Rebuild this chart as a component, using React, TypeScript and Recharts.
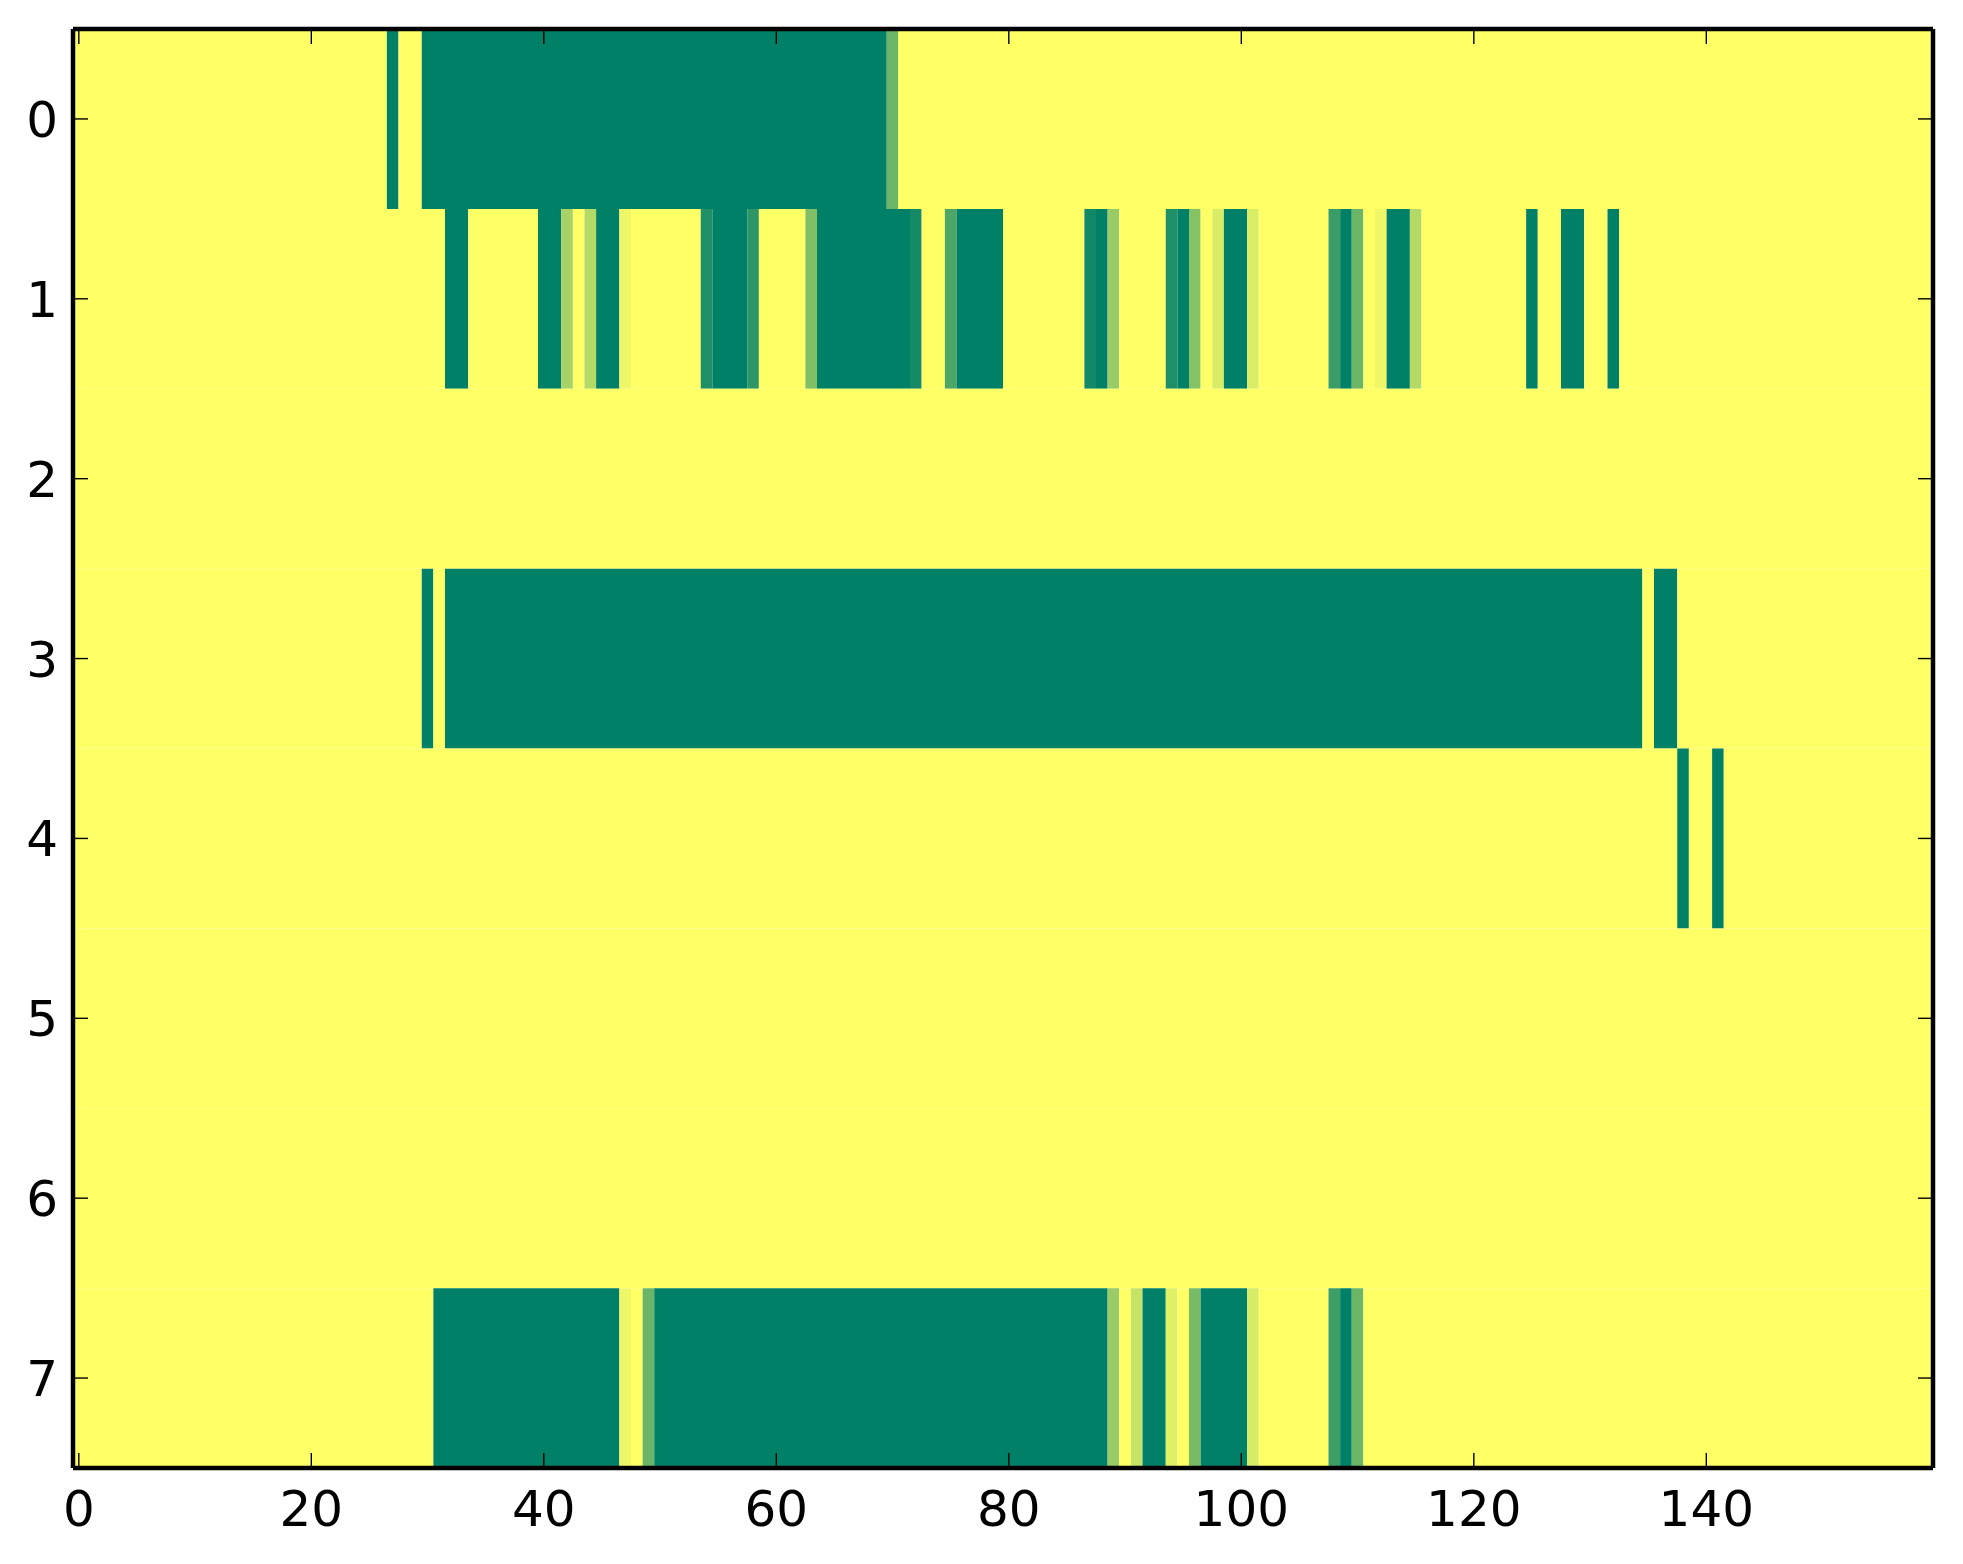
import React from "react";
import {
  ScatterChart,
  XAxis,
  YAxis,
  ReferenceArea,
} from "recharts";

// image is 8 rows x 160 columns; cells not listed are at the top of the scale (1)
const nCols = 160;
const rowLabels = [0, 1, 2, 3, 4, 5, 6, 7];
const xTicks = [0, 20, 40, 60, 80, 100, 120, 140];

// [firstCol, lastCol, value]
const row0: [number, number, number][] = [
  [27, 27, 0],
  [30, 69, 0],
  [70, 70, 0.42],
];
const row1: [number, number, number][] = [
  [32, 33, 0],
  [40, 41, 0],
  [42, 42, 0.65],
  [44, 44, 0.7],
  [45, 46, 0],
  [47, 47, 0.94],
  [54, 54, 0.12],
  [55, 57, 0],
  [58, 58, 0.18],
  [63, 63, 0.5],
  [64, 71, 0],
  [72, 72, 0.08],
  [75, 75, 0.3],
  [76, 79, 0],
  [87, 87, 0.07],
  [88, 88, 0],
  [89, 89, 0.6],
  [94, 94, 0.12],
  [95, 95, 0],
  [96, 96, 0.52],
  [98, 98, 0.85],
  [99, 100, 0],
  [101, 101, 0.85],
  [108, 108, 0.23],
  [109, 109, 0],
  [110, 110, 0.42],
  [112, 112, 0.94],
  [113, 114, 0],
  [115, 115, 0.7],
  [125, 125, 0],
  [128, 129, 0],
  [132, 132, 0],
];
const row2: [number, number, number][] = [];
const row3: [number, number, number][] = [
  [30, 30, 0],
  [32, 134, 0],
  [136, 137, 0],
];
const row4: [number, number, number][] = [
  [138, 138, 0],
  [141, 141, 0],
];
const row5: [number, number, number][] = [];
const row6: [number, number, number][] = [];
const row7: [number, number, number][] = [
  [31, 46, 0],
  [47, 47, 0.94],
  [49, 49, 0.42],
  [50, 88, 0],
  [89, 89, 0.6],
  [91, 91, 0.78],
  [92, 93, 0],
  [94, 94, 0.88],
  [96, 96, 0.47],
  [97, 100, 0],
  [101, 101, 0.84],
  [108, 108, 0.24],
  [109, 109, 0],
  [110, 110, 0.42],
];

const rows = [row0, row1, row2, row3, row4, row5, row6, row7];

// matplotlib "summer" colormap
function summer(v: number) {
  const r = Math.round(255 * v);
  const g = Math.round(255 * (0.5 + 0.5 * v));
  const b = Math.round(255 * 0.4);
  return `rgb(${r},${g},${b})`;
}

type Run = { row: number; x1: number; x2: number; v: number };

// expand each row into its 160 cells, then merge neighbours of equal value
function buildRuns(): Run[] {
  const out: Run[] = [];
  rows.forEach((spans, r) => {
    const cells = new Array(nCols).fill(1);
    for (const [a, b, v] of spans) {
      for (let c = a; c <= b; c++) cells[c] = v;
    }
    let start = 0;
    for (let c = 1; c <= nCols; c++) {
      if (c === nCols || cells[c] !== cells[start]) {
        out.push({ row: r, x1: start - 0.5, x2: c - 0.5, v: cells[start] });
        start = c;
      }
    }
  });
  return out;
}

const runs = buildRuns();

const font = "DejaVu Sans, sans-serif";

function BottomTick(props: any) {
  const { x, y, payload } = props;
  return (
    <g>
      <line x1={x} x2={x} y1={y} y2={y - 15} stroke="#000" strokeWidth={1.4} />
      <text x={x} y={y + 58} textAnchor="middle" fontSize={50} fontFamily={font} fill="#000">
        {payload.value}
      </text>
    </g>
  );
}

function TopTick(props: any) {
  const { x, y } = props;
  return <line x1={x} x2={x} y1={y} y2={y + 15} stroke="#000" strokeWidth={1.4} />;
}

function LeftTick(props: any) {
  const { x, y, payload } = props;
  return (
    <g>
      <line x1={x} x2={x + 15} y1={y} y2={y} stroke="#000" strokeWidth={1.4} />
      <text x={x - 15} y={y + 18} textAnchor="end" fontSize={50} fontFamily={font} fill="#000">
        {payload.value}
      </text>
    </g>
  );
}

function RightTick(props: any) {
  const { x, y } = props;
  return <line x1={x} x2={x - 15} y1={y} y2={y} stroke="#000" strokeWidth={1.4} />;
}

export default function App() {
  const axisLine = { stroke: "#000", strokeWidth: 4.5 };
  return (
    <div style={{ position: "absolute", left: 0, top: 0, background: "#fff" }}>
      <ScatterChart width={1963} height={1564} margin={{ top: 0, right: 0, bottom: 0, left: 0 }}>
        {runs.map((r, i) => (
          <ReferenceArea
            key={i}
            x1={r.x1}
            x2={r.x2}
            y1={r.row - 0.5}
            y2={r.row + 0.5}
            fill={summer(r.v)}
            fillOpacity={1}
            stroke="none"
            ifOverflow="hidden"
          />
        ))}
        <XAxis
          type="number"
          dataKey="x"
          domain={[-0.5, nCols - 0.5]}
          allowDataOverflow
          ticks={xTicks}
          interval={0}
          height={96}
          tickSize={0}
          tickMargin={0}
          tickLine={false}
          axisLine={axisLine}
          tick={BottomTick}
        />
        <XAxis
          xAxisId="top"
          orientation="top"
          type="number"
          dataKey="x"
          domain={[-0.5, nCols - 0.5]}
          allowDataOverflow
          ticks={xTicks}
          interval={0}
          height={29}
          tickSize={0}
          tickMargin={0}
          tickLine={false}
          axisLine={axisLine}
          tick={TopTick}
        />
        <YAxis
          type="number"
          dataKey="y"
          reversed
          domain={[-0.5, rowLabels.length - 0.5]}
          allowDataOverflow
          ticks={rowLabels}
          interval={0}
          width={73}
          tickSize={0}
          tickMargin={0}
          tickLine={false}
          axisLine={axisLine}
          tick={LeftTick}
        />
        <YAxis
          yAxisId="right"
          orientation="right"
          type="number"
          dataKey="y"
          reversed
          domain={[-0.5, rowLabels.length - 0.5]}
          allowDataOverflow
          ticks={rowLabels}
          interval={0}
          width={30}
          tickSize={0}
          tickMargin={0}
          tickLine={false}
          axisLine={axisLine}
          tick={RightTick}
        />
      </ScatterChart>
    </div>
  );
}
